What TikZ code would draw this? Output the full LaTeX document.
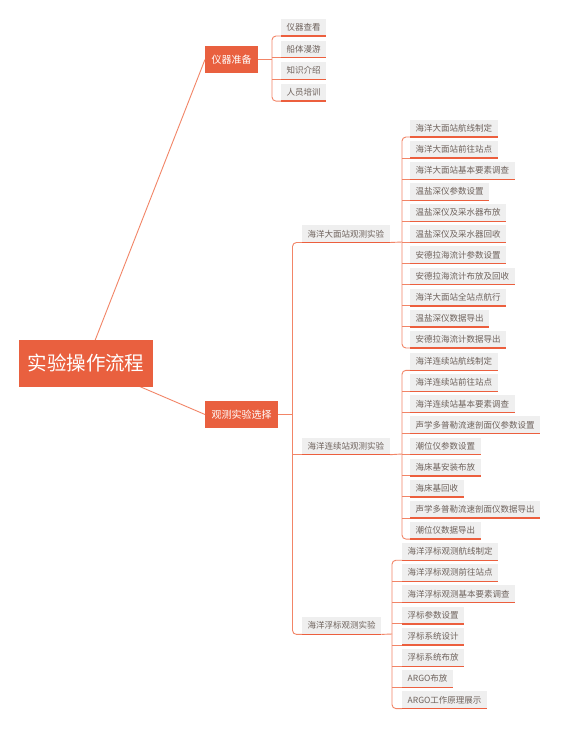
\documentclass[tikz,border=0pt]{standalone}
\usepackage{fontspec}
\newfontfamily\cjk{Noto Sans CJK SC}
\definecolor{mainor}{HTML}{E9603F}
\definecolor{connor}{HTML}{F28567}
\definecolor{ulor}{HTML}{EC5F3E}
\definecolor{leafbg}{HTML}{EFEFEF}
\definecolor{leaftx}{HTML}{6E625C}
\tikzset{
  rootbox/.style={fill=mainor,text=white,font=\cjk\fontsize{19.5}{22}\selectfont,minimum width=134pt,minimum height=47pt,inner sep=0pt},
  topicbox/.style={fill=mainor,text=white,font=\cjk\fontsize{10}{12}\selectfont,minimum height=27pt,inner xsep=6.5pt,inner ysep=0pt,anchor=west},
  leafbox/.style={fill=leafbg,text=leaftx,font=\cjk\fontsize{8.5}{10}\selectfont,minimum height=17pt,inner xsep=5.5pt,inner ysep=0pt,anchor=west},
  conn/.style={draw=connor,line width=0.9pt,rounded corners=4pt},
  uline/.style={draw=ulor,line width=1.4pt},
}
\newcommand{\brk}[3]{% first child, last child, bracket coordinate
  \draw[conn] (#1.south west) -- (#1.south west -| #3) -- (#2.south west -| #3) -- (#2.south west);}
\newcommand{\midbr}[2]{\draw[conn] (#1.south west -| #2) -- (#1.south west);}
\begin{document}
\begin{tikzpicture}[x=1pt,y=-1pt]
\useasboundingbox[fill=white] (0,0) rectangle (561,729);
% ---------- nodes
\node[topicbox] (t1) at (205,59.5) {仪器准备};
\node[topicbox] (t2) at (205,414.5) {观测实验选择};
\draw[conn] (86,363.5) coordinate (rc) -- (t1.west);
\draw[conn] (rc) -- (t2.west);
\node[rootbox] (root) at (86,363.5) {实验操作流程};
% group A
\node[leafbox] (a1) at (281,27.3) {仪器查看};
\node[leafbox] (a2) at (281,49) {船体漫游};
\node[leafbox] (a3) at (281,70.7) {知识介绍};
\node[leafbox] (a4) at (281,92.4) {人员培训};
\coordinate (ba) at (272,59.5);
\draw[conn] (t1.east) -- (ba);
\brk{a1}{a4}{ba}
\midbr{a2}{ba}\midbr{a3}{ba}
% level 2
\node[leafbox] (b1) at (302,233.8) {海洋大面站观测实验};
\node[leafbox] (b2) at (302,446) {海洋连续站观测实验};
\node[leafbox] (b3) at (302,625.7) {海洋浮标观测实验};
\coordinate (bb) at (292.5,414.5);
\draw[conn] (t2.east) -- (bb);
\brk{b1}{b3}{bb}
\midbr{b2}{bb}
% group C
\foreach \t [count=\i from 0] in {海洋大面站航线制定,海洋大面站前往站点,海洋大面站基本要素调查,温盐深仪参数设置,温盐深仪及采水器布放,温盐深仪及采水器回收,安德拉海流计参数设置,安德拉海流计布放及回收,海洋大面站全站点航行,温盐深仪数据导出,安德拉海流计数据导出}
  {\node[leafbox] (c\i) at (410,128.3+21.1*\i) {\t};}
\coordinate (bc) at (402,242);
\draw[conn] (b1.south east) -- (bc);
\brk{c0}{c10}{bc}
\foreach \i in {1,...,9} {\midbr{c\i}{bc}}
% group D
\foreach \t [count=\i from 0] in {海洋连续站航线制定,海洋连续站前往站点,海洋连续站基本要素调查,声学多普勒流速剖面仪参数设置,潮位仪参数设置,海床基安装布放,海床基回收,声学多普勒流速剖面仪数据导出,潮位仪数据导出}
  {\node[leafbox] (d\i) at (410,361.6+21.1*\i) {\t};}
\coordinate (bd) at (402,454);
\draw[conn] (b2.south east) -- (bd);
\brk{d0}{d8}{bd}
\foreach \i in {1,...,7} {\midbr{d\i}{bd}}
% group E
\foreach \t [count=\i from 0] in {海洋浮标观测航线制定,海洋浮标观测前往站点,海洋浮标观测基本要素调查,浮标参数设置,浮标系统设计,浮标系统布放,ARGO布放,ARGO工作原理展示}
  {\node[leafbox] (e\i) at (402,551.5+21.2*\i) {\t};}
\coordinate (be) at (392,634);
\draw[conn] (b3.south east) -- (be);
\brk{e0}{e7}{be}
\foreach \i in {1,...,6} {\midbr{e\i}{be}}
% underlines
\foreach \n in {a1,a2,a3,a4,b1,b2,b3,c0,c1,c2,c3,c4,c5,c6,c7,c8,c9,c10,d0,d1,d2,d3,d4,d5,d6,d7,d8,e0,e1,e2,e3,e4,e5,e6,e7}
  {\draw[uline] (\n.south west) -- (\n.south east);}
\end{tikzpicture}
\end{document}
